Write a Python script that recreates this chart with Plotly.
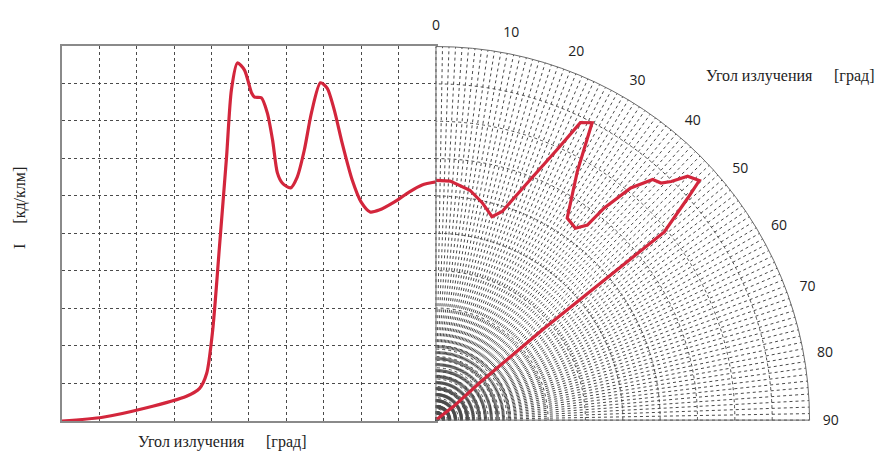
import plotly.graph_objects as go

# ---- data ----
# left Cartesian panel: angle (grid units 0..100) vs intensity (0..100)
left_x = [0, 10.9, 22.1, 33.3, 36.8, 38.7, 40.3, 42.1, 44.0, 45.3, 46.9, 48.8, 50.7, 51.5,
          53.3, 54.9, 56.3, 57.6, 58.9, 61.1, 62.9, 64.8, 66.7, 69.1, 70.9, 72.8, 74.9,
          77.6, 80.0, 82.4, 84.8, 88.8, 92.8, 96.3, 100]
left_y = [0, 1.0, 3.4, 6.6, 8.7, 12.7, 24.2, 46.3, 70.3, 88.2, 95.4, 93.5, 87.4, 86.3,
          86.1, 82.1, 74.9, 66.1, 63.4, 62.1, 65.0, 72.2, 82.1, 90.1, 88.7, 82.9, 74.1,
          64.2, 58.3, 55.7, 56.2, 58.3, 61.0, 62.9, 63.7]

# right polar panel: emission angle [deg] and radius (ring units 0..10)
polar_theta = [0, 3.4, 8.4, 12.0, 15.4, 17.6, 21.4, 24.1, 25.9, 27.7, 29.6, 33.0, 36.0,
               37.8, 38.4, 40.0, 42.0, 43.5, 44.6, 45.9, 47.7, 48.6, 50.5, 49.7, 49.4, 52.0, 50.0]
polar_r = [6.42, 6.41, 6.22, 5.95, 5.65, 5.86, 6.91, 7.93, 8.85, 8.99, 7.66, 6.45, 6.35,
           6.61, 7.24, 8.11, 8.67, 8.75, 8.97, 9.38, 9.53, 8.98, 7.92, 3.78, 1.56, 0.6, 0.0]

angle_ticks = list(range(0, 91))
angle_labels = [str(a) if a % 10 == 0 else "" for a in angle_ticks]
ring_values = [round(0.1 * i, 1) for i in range(1, 21)] + [3, 4, 5, 6, 7, 8, 9, 10]

RED = "#d3263c"
GRID = "#4a4a4a"
SERIF = "Liberation Serif"
NB = "\u00a0"

fig = go.Figure()
fig.add_trace(go.Scatter(
    x=left_x, y=left_y, mode="lines",
    line=dict(color=RED, width=3.2, shape="spline", smoothing=0.7),
    hoverinfo="skip", showlegend=False))
fig.add_trace(go.Scatterpolar(
    r=polar_r, theta=polar_theta, mode="lines", subplot="polar",
    line=dict(color=RED, width=3.2),
    hoverinfo="skip", showlegend=False))

axis_common = dict(
    range=[0, 100], dtick=10, showgrid=True, gridcolor=GRID, griddash="dot",
    gridwidth=1, showticklabels=False, ticks="", zeroline=False,
    showline=True, mirror=True, linecolor="#8a8a8a", linewidth=1.5)

label_font = dict(family=SERIF, size=16, color="#222")


def note(text, x, y, angle=0):
    return dict(text=text, x=x / 879, y=1 - y / 458, xref="paper", yref="paper",
                xanchor="center", yanchor="middle", textangle=angle,
                showarrow=False, font=label_font)


fig.update_layout(
    width=879, height=458,
    margin=dict(l=0, r=0, t=0, b=0),
    paper_bgcolor="white", plot_bgcolor="white",
    xaxis=dict(domain=[0.0705, 0.496], **axis_common),
    yaxis=dict(domain=[0.0808, 0.9003], **axis_common),
    polar=dict(
        domain=dict(x=[0.496, 0.921], y=[0.0808, 0.9003]),
        sector=[0, 90],
        bgcolor="white",
        angularaxis=dict(
            rotation=90, direction="clockwise",
            tickmode="array", tickvals=angle_ticks, ticktext=angle_labels,
            showgrid=True, gridcolor=GRID, griddash="dot", gridwidth=0.8,
            showline=True, linecolor="#6a6a6a", linewidth=1,
            ticks="outside", ticklen=10, tickcolor="rgba(0,0,0,0)",
            tickfont=dict(family="Open Sans", size=14, color="#222")),
        radialaxis=dict(
            range=[0, 10], tickmode="array", tickvals=ring_values,
            showgrid=True, gridcolor=GRID, griddash="dot", gridwidth=0.8,
            showticklabels=False, ticks="", showline=False)),
    annotations=[
        note("Угол излучения", 191, 442),
        note("[град]", 286, 442),
        note("Угол излучения", 759, 76),
        note("[град]", 854, 76),
        note("I" + NB * 5 + "[кд/клм]", 20, 208, angle=-90),
    ],
)

fig.write_html("out.html", config={"displayModeBar": False},
               post_script="document.body.style.margin='0px';")
